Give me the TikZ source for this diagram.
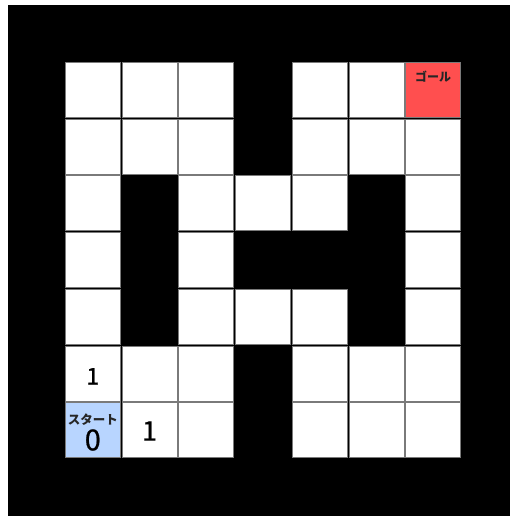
\documentclass[tikz,border=0pt]{standalone}
\usepackage{fontspec}
\newfontfamily\jp{Noto Sans CJK JP}
\newfontfamily\jpmed[FakeBold=0.8]{Noto Sans CJK JP}
\definecolor{goalred}{HTML}{FF4F4F}
\definecolor{startblue}{HTML}{B8D5FF}
\definecolor{edgegray}{HTML}{7A7A7A}
\begin{document}
\begin{tikzpicture}[x=1pt,y=-1pt,
  cell/.style={draw=edgegray,line width=0.6pt,fill=white,minimum size=55pt,inner sep=0pt,outer sep=0pt},
  lbl/.style={inner sep=0pt,font=\jp}]
\useasboundingbox (0,0) rectangle (510,516);
\fill[white] (0,0) rectangle (510,516);
\fill[black] (8,5) rectangle (510,516);
\def\pitch{56.7}
% maze: 1 = open
\foreach \r/\row in {0/{1,1,1,0,1,1,1},1/{1,1,1,0,1,1,1},2/{1,0,1,1,1,0,1},3/{1,0,1,0,0,0,1},4/{1,0,1,1,1,0,1},5/{1,1,1,0,1,1,1},6/{1,1,1,0,1,1,1}}{
  \foreach \v [count=\c from 0] in \row {
    \ifnum\v=1
      \node[cell] (c\r\c) at ({65+\pitch*\c+27.8},{62+\pitch*\r+27.8}) {};
    \fi
  }
}
\node[cell,fill=goalred] (goal) at (c06) {};
\node[cell,fill=startblue] (start) at (c60) {};
\node[lbl,font=\jp\bfseries\fontsize{12}{12}\selectfont,text=black!85] (goaltxt) at ([yshift=-14.5pt]goal.north) {ゴール};
\node[lbl,font=\jp\bfseries\fontsize{12.5}{12.5}\selectfont,text=black!85] (starttxt) at ([yshift=-17pt]start.north) {スタート};
\node[lbl,font=\jpmed\fontsize{29}{29}\selectfont] (zero) at ([yshift=-10pt]start.center) {0};
\node[lbl,font=\jpmed\fontsize{23}{23}\selectfont] (one1) at ([yshift=-3pt]c50.center) {1};
\node[lbl,font=\jpmed\fontsize{27}{27}\selectfont] (one2) at ([yshift=-1pt]c61.center) {1};
\end{tikzpicture}
\end{document}
